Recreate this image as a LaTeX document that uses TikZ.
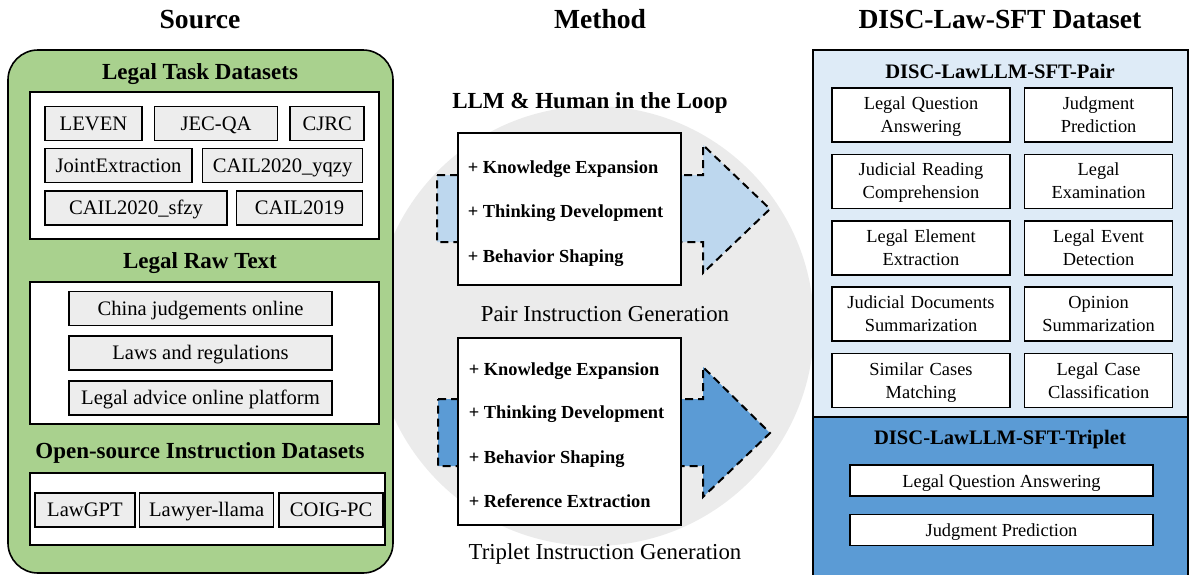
\documentclass[tikz,border=0pt]{standalone}
\usepackage{fontspec}
\setmainfont{Liberation Serif}
\usepackage{xcolor}
\usepackage{tikz}
\usetikzlibrary{positioning}

\definecolor{srcgreen}{HTML}{A9D18E}
\definecolor{itemgray}{HTML}{EDEDED}
\definecolor{loopgray}{HTML}{EBEBEB}
\definecolor{pairblue}{HTML}{BDD7EE}
\definecolor{palebox}{HTML}{DEEBF7}
\definecolor{tripblue}{HTML}{5B9BD5}

\begin{document}
\begin{tikzpicture}[x=0.5pt, y=-0.5pt, line width=0.8pt, node distance=5pt,
        oneline/.style={text height=0.8em, text depth=0.14em},
        title/.style={oneline, font=\fontsize{13.8}{16}\selectfont\bfseries},
        head/.style={oneline, font=\fontsize{11.5}{14}\selectfont\bfseries},
        subhead/.style={oneline, font=\fontsize{10.3}{12}\selectfont\bfseries},
        caption/.style={oneline, font=\fontsize{11.4}{14}\selectfont},
        srcitem/.style={draw, fill=itemgray, inner sep=0pt, minimum height=17pt,
            oneline, font=\fontsize{10.3}{12}\selectfont},
        loopbox/.style={draw, fill=white, line width=1.3pt, inner sep=0pt},
        tip/.style={anchor=west, inner sep=0pt, oneline, font=\fontsize{9.2}{11}\selectfont\bfseries},
        flow/.style={draw, line width=1pt, dash pattern=on 4pt off 2.5pt},
        task/.style={draw, fill=white, align=center, inner sep=0pt, minimum height=27pt,
            font=\fontsize{9.2}{11.5}\selectfont,
            execute at begin node={\rule{0pt}{9.5pt}}, execute at end node=\strut},
        longtask/.style={draw, fill=white, inner sep=0pt, minimum width=151.5pt,
            minimum height=15.5pt, oneline, font=\fontsize{9.2}{11.5}\selectfont}]
    \useasboundingbox (0,0) rectangle (1190,574);

    % background disc behind the method column
    \fill[loopgray] (594,326) circle[radius=110pt];

    % column titles
    \node[title] (source) at (200,22) {Source};
    \node[title] (method) at (600,22) {Method};
    \node[title] (dataset) at (1000,22) {DISC-Law-SFT Dataset};

    % ---------------- source ----------------
    \draw[fill=srcgreen, rounded corners=15pt] (8,50) rectangle (393,573);

    \node[head] (taskhead) at (200,73) {Legal Task Datasets};
    \draw[fill=white] (30,92) rectangle (379,239);
    \node[srcitem, minimum width=48.5pt] (leven) at (93.5,123.5) {LEVEN};
    \node[srcitem, minimum width=61.5pt, right=5.5pt of leven] (jecqa) {JEC-QA};
    \node[srcitem, minimum width=37pt, right=5.5pt of jecqa] (cjrc) {CJRC};
    \node[srcitem, minimum width=73.5pt] (joint) at (118.5,165.5) {JointExtraction};
    \node[srcitem, minimum width=80pt, right=4.5pt of joint] (yqzy) {CAIL2020\_yqzy};
    \node[srcitem, minimum width=91pt] (sfzy) at (136,208) {CAIL2020\_sfzy};
    \node[srcitem, minimum width=63pt, right=4pt of sfzy] (cail) {CAIL2019};

    \node[head] (rawhead) at (200,262) {Legal Raw Text};
    \draw[fill=white] (30,282) rectangle (379,424);
    \node[srcitem, minimum width=131.5pt] (china) at (200.5,308.5) {China judgements online};
    \node[srcitem, minimum width=131.5pt, below=4.5pt of china] (laws) {Laws and regulations};
    \node[srcitem, minimum width=131.5pt, below=4.5pt of laws] (advice) {Legal advice online platform};

    \node[head] (openhead) at (200,452) {Open-source Instruction Datasets};
    \draw[fill=white] (30,473) rectangle (385,545);
    \node[srcitem, minimum width=50pt] (lawgpt) at (85,510) {LawGPT};
    \node[srcitem, minimum width=67pt, right=1.5pt of lawgpt] (lawyer) {Lawyer-llama};
    \node[srcitem, minimum width=52pt, right=2pt of lawyer] (coig) {COIG-PC};

    % ---------------- method ----------------
    \node[head] (loophead) at (590,102) {LLM \& Human in the Loop};

    \draw[flow, fill=pairblue] (437,175) -- (703,175) -- (703,145) -- (770,209)
        -- (703,273) -- (703,242) -- (437,242) -- cycle;
    \node[loopbox, minimum width=111.5pt, minimum height=76pt] (pairbox) at (569.5,209) {};
    \node[tip] (pk) at (467,167) {+ Knowledge Expansion};
    \node[tip] (pt) at (467,211) {+ Thinking Development};
    \node[tip] (pb) at (467,256) {+ Behavior Shaping};
    \node[caption] (paircap) at (605,315) {Pair Instruction Generation};

    \draw[flow, fill=tripblue] (438,399) -- (703,399) -- (703,367) -- (770,433)
        -- (703,497) -- (703,466) -- (438,466) -- cycle;
    \node[loopbox, minimum width=111.5pt, minimum height=93.5pt] (tripbox) at (569.5,431.5) {};
    \node[tip] (tk) at (468,369) {+ Knowledge Expansion};
    \node[tip] (tt) at (468,412) {+ Thinking Development};
    \node[tip] (tb) at (468,457) {+ Behavior Shaping};
    \node[tip] (tr) at (468,501) {+ Reference Extraction};
    \node[caption] (tripcap) at (605,553) {Triplet Instruction Generation};

    % ---------------- dataset ----------------
    \draw[fill=palebox] (813,50) rectangle (1188,417);
    \draw[fill=tripblue] (813,417) rectangle (1188,580);

    \node[subhead] (pairhead) at (1000,72) {DISC-LawLLM-SFT-Pair};
    \node[task, text width=89pt] (lqa) at (921,115) {Legal Question\\Answering};
    \node[task, text width=74pt, right=6.5pt of lqa] (jp) {Judgment\\Prediction};
    \node[task, text width=89pt, below=5.4pt of lqa] (jrc) {Judicial Reading\\Comprehension};
    \node[task, text width=74pt, right=6.5pt of jrc] (exam) {Legal\\Examination};
    \node[task, text width=89pt, below=5.4pt of jrc] (lee) {Legal Element\\Extraction};
    \node[task, text width=74pt, right=6.5pt of lee] (led) {Legal Event\\Detection};
    \node[task, text width=89pt, below=5.4pt of lee] (jds) {Judicial Documents\\Summarization};
    \node[task, text width=74pt, right=6.5pt of jds] (ops) {Opinion\\Summarization};
    \node[task, text width=89pt, below=5.4pt of jds] (scm) {Similar Cases\\Matching};
    \node[task, text width=74pt, right=6.5pt of scm] (lcc) {Legal Case\\Classification};

    \node[subhead] (triphead) at (1000,438) {DISC-LawLLM-SFT-Triplet};
    \node[longtask] (tqa) at (1001.5,480.5) {Legal Question Answering};
    \node[longtask, below=8.5pt of tqa] (tjp) {Judgment Prediction};
\end{tikzpicture}
\end{document}
